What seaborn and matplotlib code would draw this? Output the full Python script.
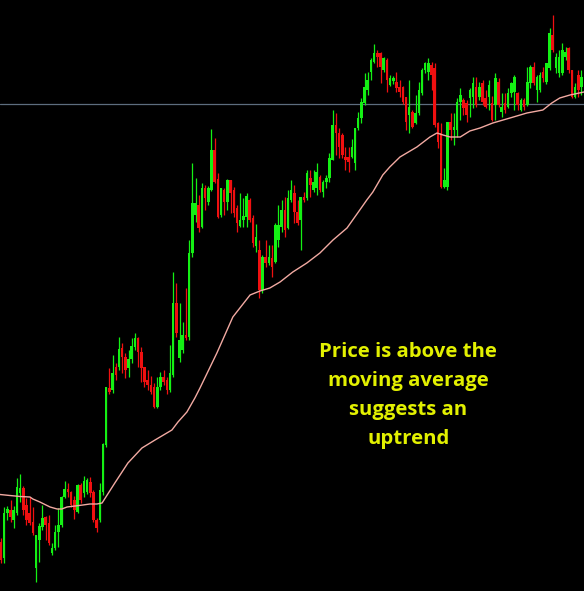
import numpy as np
import pandas as pd
import matplotlib
matplotlib.use('Agg')
import matplotlib.pyplot as plt
import seaborn as sns

# candle prices (arbitrary units, axis hidden)
opens = [58, 42, 87, 90, 80, 87, 107, 112, 95, 87,
         78, 32, 60, 73, 83, 77, 47, 52, 68, 75,
         103, 111, 108, 100, 88, 115, 107, 108, 118, 108,
         80, 80, 108, 155, 212, 210, 233, 233, 252, 243,
         232, 241, 253, 262, 248, 233, 220, 215, 213, 193,
         213, 223, 220, 210, 225, 297, 242, 250, 265, 263,
         347, 385, 395, 373, 412, 398, 410, 450, 421, 385,
         410, 398, 420, 410, 392, 374, 380, 383, 400, 382,
         354, 350, 310, 343, 337, 342, 338, 360, 373, 390,
         372, 400, 407, 388, 380, 403, 402, 422, 410, 412,
         423, 408, 418, 422, 440, 475, 467, 465, 443, 443,
         443, 437, 472, 482, 497, 510, 528, 538, 547, 547,
         530, 540, 515, 519, 518, 513, 513, 503, 485, 488,
         477, 487, 507, 530, 528, 535, 532, 477, 467, 413,
         413, 478, 470, 470, 498, 500, 497, 502, 503, 513,
         503, 517, 502, 503, 497, 495, 518, 488, 497, 493,
         507, 508, 507, 490, 500, 495, 517, 533, 510, 510,
         528, 518, 532, 565, 532, 527, 527, 543, 552, 530,
         503, 525, 513]
highs = [62, 93, 94, 100, 94, 122, 126, 114, 102, 103,
         93, 65, 77, 95, 84, 85, 57, 75, 92, 104,
         119, 117, 109, 104, 116, 117, 124, 122, 123, 110,
         82, 117, 157, 213, 232, 245, 237, 263, 257, 247,
         250, 262, 267, 263, 253, 233, 230, 224, 217, 223,
         228, 230, 223, 255, 328, 317, 297, 278, 312, 360,
         437, 422, 405, 417, 415, 414, 471, 462, 427, 412,
         412, 421, 420, 413, 395, 407, 402, 407, 402, 385,
         376, 360, 345, 360, 355, 355, 377, 395, 400, 403,
         410, 420, 415, 400, 403, 408, 430, 430, 430, 437,
         425, 420, 425, 447, 490, 487, 472, 467, 453, 453,
         461, 472, 488, 502, 527, 528, 542, 556, 550, 548,
         543, 542, 525, 524, 528, 520, 514, 503, 520, 490,
         505, 518, 532, 538, 542, 538, 537, 478, 477, 432,
         478, 487, 487, 502, 512, 502, 500, 512, 523, 523,
         518, 520, 510, 520, 504, 527, 522, 507, 507, 512,
         518, 525, 508, 502, 502, 533, 535, 538, 525, 528,
         533, 537, 572, 585, 547, 550, 557, 553, 553, 530,
         517, 530, 530]
lows = [37, 37, 80, 78, 72, 85, 98, 85, 75, 75,
        65, 18, 38, 70, 60, 55, 45, 50, 53, 73,
        102, 103, 93, 81, 87, 97, 103, 106, 103, 78,
        68, 78, 105, 153, 206, 207, 220, 230, 227, 222,
        223, 237, 250, 233, 218, 213, 210, 206, 192, 192,
        210, 215, 206, 208, 223, 263, 238, 247, 260, 260,
        343, 378, 368, 372, 390, 395, 409, 417, 382, 383,
        385, 390, 387, 383, 368, 373, 373, 373, 378, 353,
        348, 302, 307, 333, 335, 323, 337, 353, 368, 363,
        371, 398, 377, 375, 350, 398, 400, 403, 408, 405,
        408, 403, 412, 418, 440, 445, 442, 442, 430, 428,
        442, 430, 470, 477, 495, 505, 520, 537, 533, 517,
        528, 508, 514, 516, 508, 503, 496, 470, 467, 472,
        476, 485, 505, 527, 520, 510, 473, 452, 412, 412,
        410, 460, 455, 463, 480, 485, 478, 483, 492, 493,
        500, 495, 492, 490, 479, 480, 493, 483, 487, 492,
        503, 490, 490, 489, 490, 494, 512, 515, 498, 508,
        518, 516, 530, 548, 527, 523, 525, 540, 527, 502,
        502, 503, 505]
closes = [40, 87, 91, 83, 90, 113, 112, 90, 80, 77,
          67, 65, 74, 82, 75, 57, 52, 68, 75, 103,
          111, 108, 95, 90, 115, 100, 119, 120, 107, 80,
          72, 110, 156, 213, 208, 227, 225, 251, 243, 230,
          241, 254, 262, 248, 232, 218, 215, 208, 193, 213,
          223, 218, 210, 227, 297, 267, 260, 265, 262, 347,
          397, 397, 372, 412, 402, 412, 450, 418, 383, 412,
          398, 420, 407, 387, 377, 380, 384, 404, 380, 357,
          363, 310, 343, 337, 343, 333, 375, 375, 390, 370,
          402, 410, 388, 377, 403, 400, 427, 415, 418, 428,
          410, 418, 422, 442, 475, 467, 453, 445, 440, 438,
          453, 472, 482, 498, 513, 520, 540, 547, 543, 533,
          542, 520, 522, 522, 512, 508, 498, 478, 493, 473,
          487, 510, 530, 537, 537, 525, 475, 458, 413, 420,
          478, 470, 473, 498, 505, 492, 485, 510, 517, 495,
          513, 498, 493, 515, 480, 522, 495, 493, 490, 507,
          517, 523, 495, 500, 493, 518, 533, 517, 523, 525,
          522, 537, 567, 550, 543, 543, 550, 548, 530, 503,
          513, 510, 523]

# moving average read at a set of bar positions
ma_pos = [-0.3, 2.8, 6, 9.1, 10, 12.2, 15.4, 17.6, 19.1, 20.7,
          23.2, 25.7, 27.9, 30.1, 31.7, 35.7, 39.8, 44.2, 48.3, 53.6,
          55.5, 58.3, 60.8, 62.4, 67.7, 72.7, 78.1, 81.2, 84.3, 87.5,
          91.5, 95.9, 100, 104.1, 108.5, 112.5, 114.7, 116.6, 119.7, 121.9,
          125.1, 130.4, 134.5, 136.7, 138.6, 140.8, 144, 147, 150.2, 154.2,
          159.6, 164.9, 169.9, 172.7, 175.2, 178.4, 182.8]
ma_val = [105.5, 104.5, 103.5, 103, 101, 98, 93, 91, 91, 93,
          94, 95, 96, 96, 97, 117, 137, 152, 160, 170,
          178, 188, 202, 212, 247, 283, 305, 309, 312, 318,
          328, 337, 347, 360, 372, 390, 400, 408, 425, 433,
          443, 453, 463, 467, 465, 463, 463, 469, 472, 477,
          482, 487, 490, 497, 502, 505, 508]

level = 496
note = 'Price is above the\nmoving average\nsuggests an\nuptrend'

df = pd.DataFrame({'open': opens, 'high': highs, 'low': lows, 'close': closes})
df['i'] = np.arange(len(df))
df['up'] = df['close'] >= df['open']

sns.set_style('dark', {'axes.facecolor': 'black', 'figure.facecolor': 'black'})

fig = plt.figure(figsize=(5.84, 5.91), dpi=100)
ax = fig.add_axes([0, 0, 1, 1])
ax.set_facecolor('black')

green = '#14f014'
red = '#f01010'
cols = np.where(df['up'], green, red)

ax.axhline(level, color='#5d6d7e', lw=0.9, zorder=1)

ax.vlines(df['i'], df['low'], df['high'], colors=cols, lw=0.9, zorder=2)
bottom = df[['open', 'close']].min(axis=1)
height = (df['close'] - df['open']).abs().clip(lower=1.5)
ax.bar(df['i'], height, bottom=bottom, width=0.8, color=cols, linewidth=0, zorder=3)

sns.lineplot(x=ma_pos, y=ma_val, ax=ax, color='#f2aaa2', lw=1.0, sort=False, zorder=4)

ax.text(0.699, 0.331, note, transform=ax.transAxes, ha='center', va='center',
        multialignment='center', color='#e2f000', fontsize=14.7, fontweight='bold',
        family='Open Sans', linespacing=1.6)

ax.set_xlim(-0.3, 182.8)
ax.set_ylim(9, 600)
ax.set_axis_off()

fig.savefig('out.png', dpi=100, facecolor='black')
